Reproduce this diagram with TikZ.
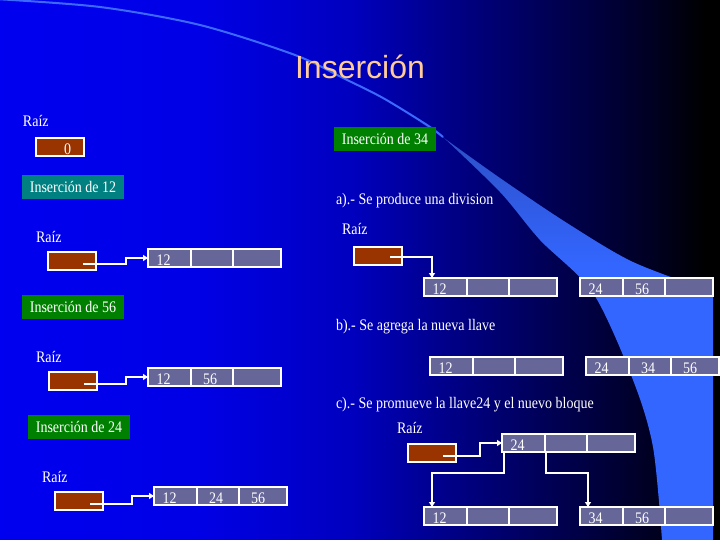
\documentclass[tikz,border=0pt]{standalone}
\usepackage{fontspec}
\usepackage{graphicx}
\setmainfont{Liberation Serif}
\newfontfamily\titlefont{Liberation Sans}
\usetikzlibrary{arrows.meta,calc}
\definecolor{brownbox}{RGB}{153,51,0}
\definecolor{cellfill}{RGB}{102,102,153}
\definecolor{tealbox}{RGB}{0,128,128}
\definecolor{greenbox}{RGB}{0,128,0}
\definecolor{titlecol}{RGB}{255,204,153}
\definecolor{arccol}{RGB}{60,105,255}
\pgfdeclarehorizontalshading{bgshade}{100bp}{rgb(0bp)=(0,0,0.94); rgb(25bp)=(0,0,0.94); rgb(38.9bp)=(0,0,0.9); rgb(49.3bp)=(0,0,0.75); rgb(56.25bp)=(0,0,0.53); rgb(63.2bp)=(0,0,0.33); rgb(70.1bp)=(0,0,0.14); rgb(74bp)=(0,0,0); rgb(100bp)=(0,0,0)}
\pgfdeclareverticalshading{swshade}{100bp}{rgb(0bp)=(0.2,0.4,1); rgb(58bp)=(0.2,0.4,1); rgb(75bp)=(0.17,0.3,0.75); rgb(100bp)=(0.17,0.3,0.75)}
\newcommand{\sx}[1]{\scalebox{1}[1.15]{#1}}
\newcommand{\mkblock}[6]{%
  \node[blkst] (#1) at (#2,#3) {};
  \draw[wline] ($(#1.north west)+(43,0)$) -- ($(#1.south west)+(43,0)$);
  \draw[wline] ($(#1.north west)+(85,0)$) -- ($(#1.south west)+(85,0)$);
  \node[txt, anchor=base west] (#1a) at ($(#1.south west)+(8.5,-1.5)$) {\sx{#4}};
  \node[txt, anchor=base west] (#1b) at ($(#1.south west)+(55,-1.5)$) {\sx{#5}};
  \node[txt, anchor=base west] (#1c) at ($(#1.south west)+(97,-1.5)$) {\sx{#6}};
}
\begin{document}
\begin{tikzpicture}[x=1pt,y=-1pt,
  txt/.style={font=\fontsize{14}{16}\selectfont, text=white, inner sep=0pt, outer sep=0pt},
  lbl/.style={txt, minimum width=102pt, minimum height=24pt, anchor=north west},
  brbox/.style={draw=white, line width=2pt, fill=brownbox, minimum width=48pt, minimum height=18pt, inner sep=0pt, outer sep=0pt, anchor=north west},
  blkst/.style={draw=white, line width=2pt, fill=cellfill, minimum width=133pt, minimum height=18pt, inner sep=0pt, outer sep=0pt, anchor=north west},
  wline/.style={draw=white, line width=2pt},
  ptr/.style={wline, -{Triangle[width=6pt,length=5pt]}}]
\useasboundingbox (0,0) rectangle (720,540);
% background
\shade[shading=bgshade] (0,0) rectangle (720,540);
\shade[shading=swshade] (420,122) -- plot[smooth] coordinates {(437,133) (500,178) (567,223) (633,262) (713,292)} -- (713,540) -- (662,540) -- plot[smooth] coordinates {(662,540) (653,447) (633,380) (593,293) (540,240) (500,192) (443,137)} -- cycle;
\draw[arccol, line width=2pt] plot[smooth] coordinates {(-5,-1) (100,7) (200,25) (295,55) (343,78) (383,98) (427,125) (443,137)};
% title
\node[font=\titlefont\fontsize{32}{36}\selectfont, text=titlecol, inner sep=0pt, anchor=base] (title) at (360,79) {Inserción};
% left column
\node[txt, anchor=base west] (raiz0) at (23,127) {\sx{Raíz}};
\node[brbox] (rz0) at (36,138) {};
\node[txt, anchor=base west] (zero) at (64,155) {\sx{0}};
\node[lbl, fill=tealbox] (ins12) at (22,175) {\sx{Inserción de 12}};
\node[txt, anchor=base west] (raiz1) at (36,242) {\sx{Raíz}};
\node[brbox] (rz1) at (48,252) {};
\mkblock{bA}{148}{249}{12}{}{}
\coordinate (p1s) at (83,264);
\draw[ptr] (p1s) -- (126,264) |- (bA.west);
\node[lbl, fill=greenbox] (ins56) at (22,295) {\sx{Inserción de 56}};
\node[txt, anchor=base west] (raiz2) at (36,362) {\sx{Raíz}};
\node[brbox] (rz2) at (49,372) {};
\mkblock{bB}{148}{368}{12}{56}{}
\coordinate (p2s) at (84,384);
\draw[ptr] (p2s) -- (126,384) |- (bB.west);
\node[lbl, fill=greenbox] (ins24) at (28,415) {\sx{Inserción de 24}};
\node[txt, anchor=base west] (raiz3) at (42,482) {\sx{Raíz}};
\node[brbox] (rz3) at (55,492) {};
\mkblock{bC}{154}{487}{12}{24}{56}
\coordinate (p3s) at (90,504);
\draw[ptr] (p3s) -- (132,504) |- (bC.west);
% right column
\node[lbl, fill=greenbox] (ins34) at (334,127) {\sx{Inserción de 34}};
\node[txt, anchor=base west] (ta) at (336,204.5) {\sx{a).- Se produce una division}};
\node[txt, anchor=base west] (raiza) at (342,235) {\sx{Raíz}};
\node[brbox] (rza) at (354,247) {};
\mkblock{ba1}{424}{278}{12}{}{}
\mkblock{ba2}{580}{278}{24}{56}{}
\coordinate (pas) at (390,257);
\draw[ptr] (pas) -| ($(ba1.north west)+(8,0)$);
\node[txt, anchor=base west] (tb) at (336,330) {\sx{b).- Se agrega la nueva llave}};
\mkblock{bb1}{430}{357}{12}{}{}
\mkblock{bb2}{586}{357}{24}{34}{56}
\node[txt, anchor=base west] (tc) at (336,408) {\sx{c).- Se promueve la llave24 y el nuevo bloque}};
\node[txt, anchor=base west] (raizc) at (397,433) {\sx{Raíz}};
\node[brbox] (rzc) at (408,444) {};
\mkblock{bc0}{502}{434}{24}{}{}
\mkblock{bc1}{424}{507}{12}{}{}
\mkblock{bc2}{580}{507}{34}{56}{}
\coordinate (pcs) at (443,456);
\draw[ptr] (pcs) -- (480,456) |- (bc0.west);
\draw[ptr] ($(bc0.south west)+(2,0)$) -- ++(0,21) -| ($(bc1.north west)+(8,0)$);
\draw[ptr] ($(bc0.south west)+(44,0)$) -- ++(0,21) -| ($(bc2.north west)+(8,0)$);
\end{tikzpicture}
\end{document}
